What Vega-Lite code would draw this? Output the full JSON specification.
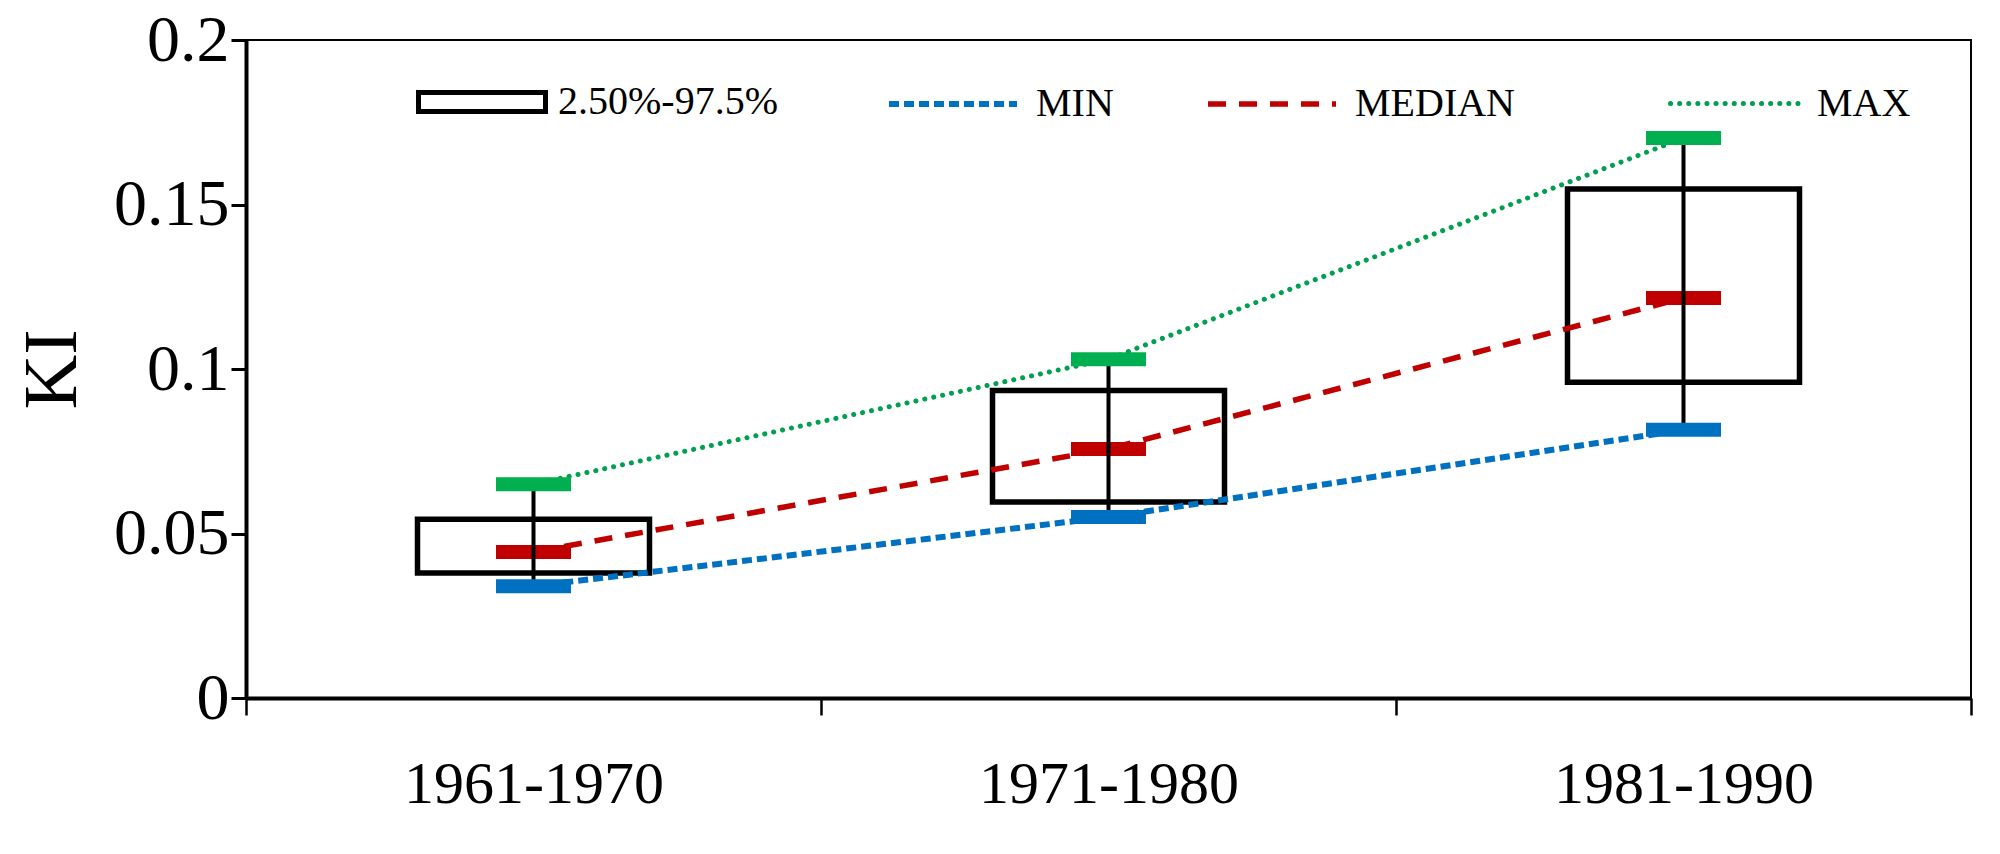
{
  "$schema": "https://vega.github.io/schema/vega-lite/v6.json",
  "width": 1725,
  "height": 658,
  "autosize": "none",
  "padding": {"left": 246, "top": 40, "right": 29, "bottom": 156},
  "background": "white",
  "config": {
    "view": {"stroke": "black", "strokeWidth": 2},
    "font": "Liberation Serif",
    "axis": {"grid": false, "domainColor": "black", "tickColor": "black", "labelColor": "black", "titleColor": "black", "labelFont": "Liberation Serif", "titleFont": "Liberation Serif", "labelLimit": 0},
    "axisY": {"labelFontSize": 66, "titleFontSize": 76, "titleFontWeight": "normal", "domainWidth": 4, "tickWidth": 3, "tickSize": 15, "labelPadding": 2, "titlePadding": 22},
    "legend": {"labelFont": "Liberation Serif", "labelFontSize": 40, "labelColor": "black", "padding": 0, "orient": "none", "direction": "horizontal", "title": null, "labelLimit": 0}
  },
  "data": {
    "values": [
      {"period": "1961-1970", "MIN": 0.034, "p025": 0.038, "MEDIAN": 0.0444, "p975": 0.0543, "MAX": 0.065},
      {"period": "1971-1980", "MIN": 0.055, "p025": 0.0596, "MEDIAN": 0.0757, "p975": 0.0935, "MAX": 0.103},
      {"period": "1981-1990", "MIN": 0.0815, "p025": 0.096, "MEDIAN": 0.1216, "p975": 0.1547, "MAX": 0.1702}
    ]
  },
  "encoding": {
    "x": {
      "field": "period", "type": "nominal",
      "scale": {"paddingInner": 0, "paddingOuter": 0},
      "axis": {"title": null, "labelAngle": 0, "labelFontSize": 60, "domainWidth": 4, "tickWidth": 2.5, "tickSize": 17, "tickBand": "extent", "labelPadding": 40, "labelLimit": 0}
    }
  },
  "layer": [
    {
      "mark": {"type": "bar", "size": 232, "fill": "transparent", "stroke": "black", "strokeWidth": 5.5},
      "encoding": {
        "y": {"field": "p025", "type": "quantitative", "scale": {"domain": [0, 0.2]}, "axis": {"title": "KI", "values": [0, 0.05, 0.1, 0.15, 0.2], "format": "~g"}},
        "y2": {"field": "p975"},
        "stroke": {"datum": "2.50%-97.5%", "scale": {"range": ["black"]},
          "legend": {"orient": "none", "legendX": 170, "legendY": -4, "symbolType": "M-1,-0.15H1V0.15H-1Z", "symbolSize": 16129, "symbolStrokeWidth": 5, "symbolFillColor": "white", "symbolStrokeColor": "black", "labelOffset": 10, "title": null,
            "encode": {"symbols": {"update": {"fill": {"value": "white"}, "stroke": {"value": "black"}, "strokeWidth": {"value": 5}}}}}}
      }
    },
    {
      "mark": {"type": "line", "strokeWidth": 6, "strokeDash": [10, 5]},
      "encoding": {
        "y": {"field": "MIN", "type": "quantitative", "scale": {"domain": [0, 0.2]}, "axis": {"title": "KI", "values": [0, 0.05, 0.1, 0.15, 0.2], "format": "~g"}},
        "color": {"datum": "MIN", "scale": {"range": ["#0070C0"]},
          "legend": {"orient": "none", "legendX": 640, "legendY": -3, "symbolType": "stroke", "symbolSize": 16384, "symbolStrokeWidth": 6, "symbolDash": [10, 5], "labelOffset": 16, "title": null}}
      }
    },
    {
      "mark": {"type": "line", "strokeWidth": 5.5, "strokeDash": [18, 13]},
      "encoding": {
        "y": {"field": "MEDIAN", "type": "quantitative", "scale": {"domain": [0, 0.2]}, "axis": {"title": "KI", "values": [0, 0.05, 0.1, 0.15, 0.2], "format": "~g"}},
        "color": {"datum": "MEDIAN", "scale": {"range": ["#C00000"]},
          "legend": {"orient": "none", "legendX": 959, "legendY": -3, "symbolType": "stroke", "symbolSize": 16384, "symbolStrokeWidth": 5.5, "symbolDash": [18, 13], "labelOffset": 16, "title": null}}
      }
    },
    {
      "mark": {"type": "line", "strokeWidth": 5, "strokeDash": [0.1, 9], "strokeCap": "round"},
      "encoding": {
        "y": {"field": "MAX", "type": "quantitative", "scale": {"domain": [0, 0.2]}, "axis": {"title": "KI", "values": [0, 0.05, 0.1, 0.15, 0.2], "format": "~g"}},
        "color": {"datum": "MAX", "scale": {"range": ["#00A050"]},
          "legend": {"orient": "none", "legendX": 1422, "legendY": -3, "symbolType": "stroke", "symbolSize": 16384, "symbolStrokeWidth": 5, "symbolDash": [0.1, 9], "labelOffset": 16, "title": null,
            "encode": {"symbols": {"update": {"strokeCap": {"value": "round"}}}}}}
      }
    },
    {
      "mark": {"type": "tick", "size": 75, "thickness": 14, "color": "#C00000", "opacity": 1},
      "encoding": {"y": {"field": "MEDIAN", "type": "quantitative", "scale": {"domain": [0, 0.2]}, "axis": {"title": "KI", "values": [0, 0.05, 0.1, 0.15, 0.2], "format": "~g"}}}
    },
    {
      "mark": {"type": "rule", "strokeWidth": 4, "color": "black"},
      "encoding": {
        "y": {"field": "MIN", "type": "quantitative", "scale": {"domain": [0, 0.2]}, "axis": {"title": "KI", "values": [0, 0.05, 0.1, 0.15, 0.2], "format": "~g"}},
        "y2": {"field": "MAX"}
      }
    },
    {
      "mark": {"type": "tick", "size": 75, "thickness": 14, "color": "#0070C0", "opacity": 1},
      "encoding": {"y": {"field": "MIN", "type": "quantitative", "scale": {"domain": [0, 0.2]}, "axis": {"title": "KI", "values": [0, 0.05, 0.1, 0.15, 0.2], "format": "~g"}}}
    },
    {
      "mark": {"type": "tick", "size": 75, "thickness": 14, "color": "#00B050", "opacity": 1},
      "encoding": {"y": {"field": "MAX", "type": "quantitative", "scale": {"domain": [0, 0.2]}, "axis": {"title": "KI", "values": [0, 0.05, 0.1, 0.15, 0.2], "format": "~g"}}}
    }
  ],
  "resolve": {"scale": {"color": "independent", "stroke": "independent"}}
}
